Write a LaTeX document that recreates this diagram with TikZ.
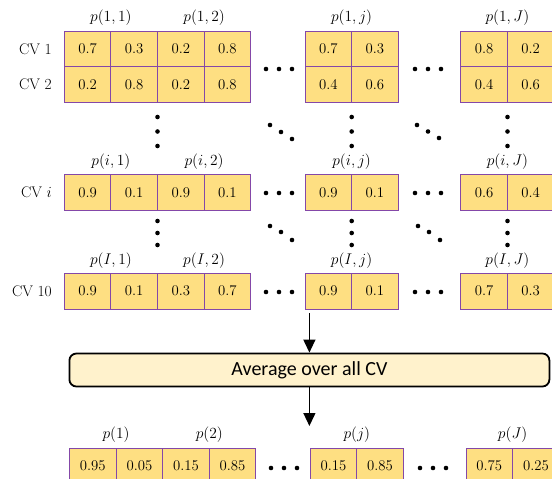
\RequirePackage{fix-cm}
\documentclass[tikz,border=0pt]{standalone}
\usepackage{fontspec}
\newfontfamily\carlito{Carlito}
\usetikzlibrary{arrows.meta}
\definecolor{cellfill}{RGB}{254,223,130}
\definecolor{cellborder}{RGB}{132,72,168}
\definecolor{boxfill}{RGB}{255,242,204}
\tikzset{
  x=1pt,y=-1pt,
  cell/.style={draw=cellborder, fill=cellfill, line width=0.9pt, minimum width=46.6pt, minimum height=36pt, inner sep=0pt, font=\fontsize{14.8}{15}\selectfont},
  hdr/.style={inner sep=0pt, font=\fontsize{15.5}{15}\selectfont},
  cvlab/.style={anchor=east, inner sep=0pt, font=\fontsize{15.4}{15}\selectfont},
  dotc/.style={fill=black, draw=none},
  avgbox/.style={draw=black, fill=boxfill, line width=1.8pt, rounded corners=7pt, minimum width=480pt, minimum height=33pt, inner sep=0pt, font=\carlito\fontsize{20}{20}\selectfont},
  arr/.style={line width=1.3pt, -{Triangle[width=12pt,length=13pt]}}
}
\newcommand{\mydot}[2]{\fill[dotc] (#1,#2) circle (2.3pt);}
\begin{document}
\begin{tikzpicture}
\useasboundingbox (0,0) rectangle (552,479);
% ---------- row CV 1
\node[cell] (a1) at (87.6,49) {0.7};
\node[cell] (a2) at (134.2,49) {0.3};
\node[cell] (a3) at (180.8,49) {0.2};
\node[cell] (a4) at (227.4,49) {0.8};
\node[cell] (a5) at (328.3,49) {0.7};
\node[cell] (a6) at (374.9,49) {0.3};
\node[cell] (a7) at (484.1,49) {0.8};
\node[cell] (a8) at (530.7,49) {0.2};
% ---------- row CV 2
\node[cell] (b1) at (87.6,84.5) {0.2};
\node[cell] (b2) at (134.2,84.5) {0.8};
\node[cell] (b3) at (180.8,84.5) {0.2};
\node[cell] (b4) at (227.4,84.5) {0.8};
\node[cell] (b5) at (328.3,84.5) {0.4};
\node[cell] (b6) at (374.9,84.5) {0.6};
\node[cell] (b7) at (484.1,84.5) {0.4};
\node[cell] (b8) at (530.7,84.5) {0.6};
% ---------- row CV i
\node[cell] (c1) at (87.6,192.5) {0.9};
\node[cell] (c2) at (134.2,192.5) {0.1};
\node[cell] (c3) at (180.8,192.5) {0.9};
\node[cell] (c4) at (227.4,192.5) {0.1};
\node[cell] (c5) at (328.3,192.5) {0.9};
\node[cell] (c6) at (374.9,192.5) {0.1};
\node[cell] (c7) at (484.1,192.5) {0.6};
\node[cell] (c8) at (530.7,192.5) {0.4};
% ---------- row CV 10
\node[cell] (d1) at (87.6,291) {0.9};
\node[cell] (d2) at (134.2,291) {0.1};
\node[cell] (d3) at (180.8,291) {0.3};
\node[cell] (d4) at (227.4,291) {0.7};
\node[cell] (d5) at (328.3,291) {0.9};
\node[cell] (d6) at (374.9,291) {0.1};
\node[cell] (d7) at (484.1,291) {0.7};
\node[cell] (d8) at (530.7,291) {0.3};
% ---------- bottom row
\node[cell] (e1) at (92.8,466) {0.95};
\node[cell] (e2) at (139.4,466) {0.05};
\node[cell] (e3) at (186.0,466) {0.15};
\node[cell] (e4) at (232.6,466) {0.85};
\node[cell] (e5) at (333.5,466) {0.15};
\node[cell] (e6) at (380.1,466) {0.85};
\node[cell] (e7) at (489.3,466) {0.75};
\node[cell] (e8) at (535.9,466) {0.25};
% ---------- headers
\node[hdr] (ha1) at (110.9,18) {$p(1,1)$};
\node[hdr] (ha2) at (204.1,18) {$p(1,2)$};
\node[hdr] (ha3) at (351.6,18) {$p(1,j)$};
\node[hdr] (ha4) at (507.4,18) {$p(1,J)$};
\node[hdr] (hc1) at (110.9,162) {$p(i,1)$};
\node[hdr] (hc2) at (204.1,162) {$p(i,2)$};
\node[hdr] (hc3) at (351.6,162) {$p(i,j)$};
\node[hdr] (hc4) at (507.4,162) {$p(i,J)$};
\node[hdr] (hd1) at (110.9,261) {$p(I,1)$};
\node[hdr] (hd2) at (204.1,261) {$p(I,2)$};
\node[hdr] (hd3) at (351.6,261) {$p(I,j)$};
\node[hdr] (hd4) at (507.4,261) {$p(I,J)$};
\node[hdr] (he1) at (116.1,435) {$p(1)$};
\node[hdr] (he2) at (209.3,435) {$p(2)$};
\node[hdr] (he3) at (356.8,435) {$p(j)$};
\node[hdr] (he4) at (512.6,435) {$p(J)$};
% ---------- row labels
\node[cvlab] (l1) at (52,49) {CV 1};
\node[cvlab] (l2) at (52,84.5) {CV 2};
\node[cvlab] (l3) at (52,192.5) {CV $i$};
\node[cvlab] (l4) at (52,291) {CV 10};
% ---------- horizontal dots
\foreach \y in {69,193,292}{
  \mydot{266}{\y}\mydot{279}{\y}\mydot{292}{\y}
  \mydot{415}{\y}\mydot{428}{\y}\mydot{441}{\y}
}
\mydot{271}{468}\mydot{284}{468}\mydot{297}{468}
\mydot{420}{468}\mydot{433}{468}\mydot{446}{468}
% ---------- vertical dots
\foreach \x in {157.5,351.7,507.5}{
  \mydot{\x}{117}\mydot{\x}{131.5}\mydot{\x}{146}
  \mydot{\x}{221}\mydot{\x}{233}\mydot{\x}{245}
}
% ---------- diagonal dots
\mydot{270}{125}\mydot{281}{132}\mydot{292}{139}
\mydot{417}{125}\mydot{428}{131.5}\mydot{439}{138}
\mydot{270}{226}\mydot{281}{232}\mydot{292}{240}
\mydot{418}{226}\mydot{429}{232}\mydot{440}{240}
% ---------- averaging box and arrows
\node[avgbox] (avg) at (309.4,370) {Average over all CV};
\coordinate (top) at (309.4,313);
\coordinate (bot) at (309.4,426);
\draw[arr] (top) -- (avg.north);
\draw[arr] (avg.south) -- (bot);
\end{tikzpicture}
\end{document}
